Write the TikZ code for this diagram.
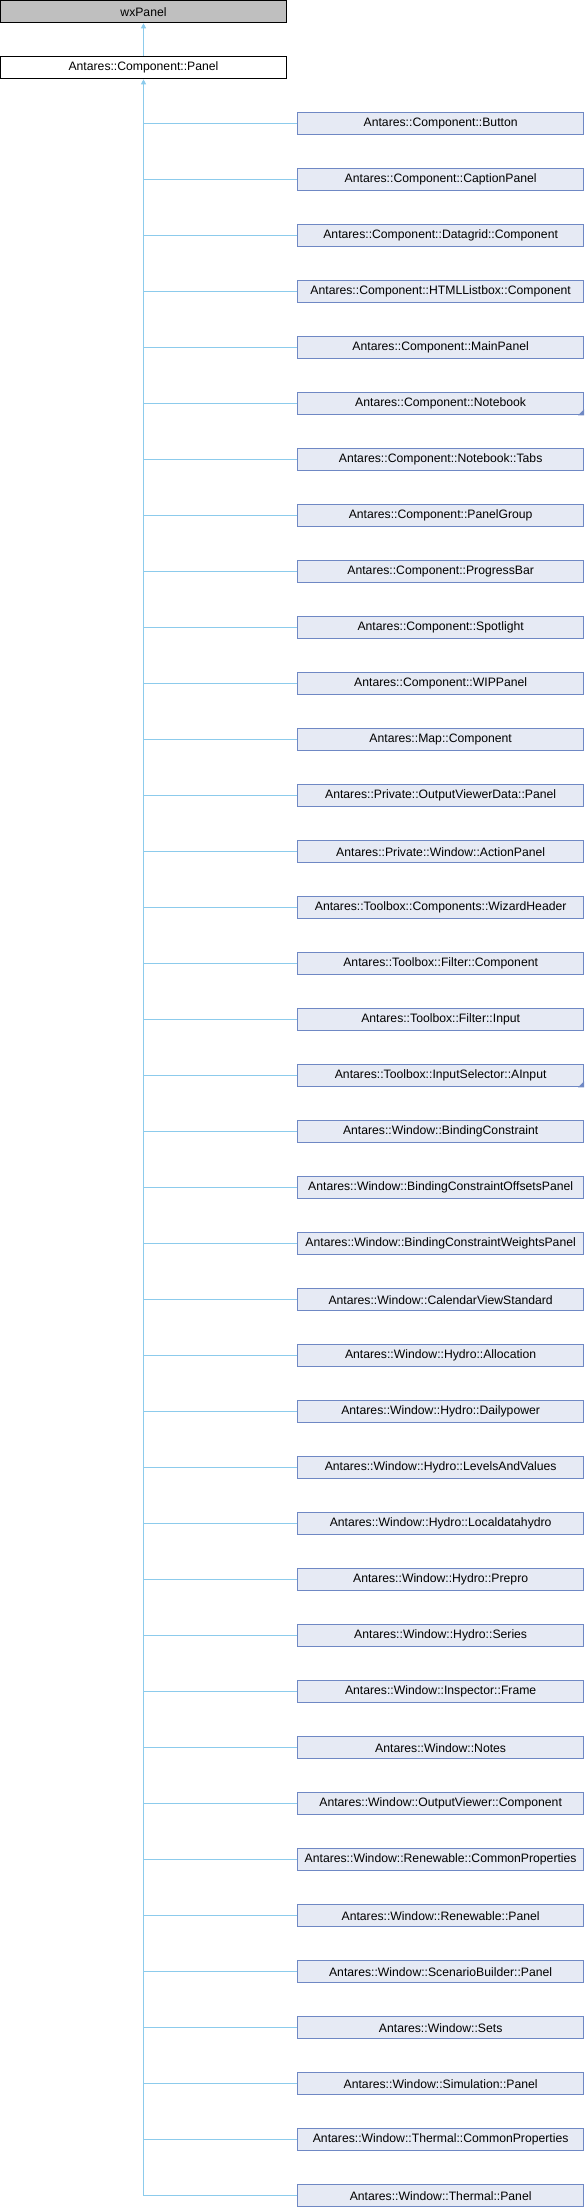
\documentclass[tikz,border=0pt]{standalone}
\usepackage{fontspec}
\setmainfont{Liberation Sans}
\usetikzlibrary{arrows.meta}
\definecolor{basegray}{HTML}{BFBFBF}
\definecolor{derivfill}{HTML}{E6EAF4}
\definecolor{derivedge}{HTML}{6F88C4}
\definecolor{linkblue}{HTML}{8CCBEC}
\tikzset{
  cls/.style={draw,line width=1pt,minimum height=22.3pt,inner sep=0pt,
    font=\fontsize{12.2}{14}\selectfont},
  basecls/.style={cls,fill=basegray,draw=black,minimum width=286pt},
  maincls/.style={cls,fill=white,draw=black,minimum width=286pt},
  derived/.style={cls,fill=derivfill,draw=derivedge,minimum width=285.7pt},
  link/.style={draw=linkblue,line width=1pt},
  marker/.style={fill=derivedge}
}
\begin{document}
\begin{tikzpicture}[x=1pt,y=-1pt,>={Triangle[length=5pt,width=5pt]}]
  \useasboundingbox (0,0) rectangle (584,2208);
  \node[basecls] (wxpanel) at (143.5,11.65) {wxPanel};
  \node[maincls] (panel) at (143.5,67.65) {Antares::Component::Panel};
  \draw[link,->] (panel.north) -- (wxpanel.south);
  \foreach \name [count=\i from 0] in {
      Antares::Component::Button,
      Antares::Component::CaptionPanel,
      Antares::Component::Datagrid::Component,
      Antares::Component::HTMLListbox::Component,
      Antares::Component::MainPanel,
      Antares::Component::Notebook,
      Antares::Component::Notebook::Tabs,
      Antares::Component::PanelGroup,
      Antares::Component::ProgressBar,
      Antares::Component::Spotlight,
      Antares::Component::WIPPanel,
      Antares::Map::Component,
      Antares::Private::OutputViewerData::Panel,
      Antares::Private::Window::ActionPanel,
      Antares::Toolbox::Components::WizardHeader,
      Antares::Toolbox::Filter::Component,
      Antares::Toolbox::Filter::Input,
      Antares::Toolbox::InputSelector::AInput,
      Antares::Window::BindingConstraint,
      Antares::Window::BindingConstraintOffsetsPanel,
      Antares::Window::BindingConstraintWeightsPanel,
      Antares::Window::CalendarViewStandard,
      Antares::Window::Hydro::Allocation,
      Antares::Window::Hydro::Dailypower,
      Antares::Window::Hydro::LevelsAndValues,
      Antares::Window::Hydro::Localdatahydro,
      Antares::Window::Hydro::Prepro,
      Antares::Window::Hydro::Series,
      Antares::Window::Inspector::Frame,
      Antares::Window::Notes,
      Antares::Window::OutputViewer::Component,
      Antares::Window::Renewable::CommonProperties,
      Antares::Window::Renewable::Panel,
      Antares::Window::ScenarioBuilder::Panel,
      Antares::Window::Sets,
      Antares::Window::Simulation::Panel,
      Antares::Window::Thermal::CommonProperties,
      Antares::Window::Thermal::Panel}
  {
    \node[derived] (c\i) at (440.65,123.65+56*\i) {\name};
    \draw[link] (c\i.west) -- (c\i.west -| panel.south);
  }
  % inheritance trunk
  \draw[link,->] (c37.west -| panel.south) -- (panel.south);
  % classes with further children
  \foreach \i in {5,17}
    \fill[marker] (c\i.south east) -- ++(-6,0) -- ++(6,-6) -- cycle;
\end{tikzpicture}
\end{document}
